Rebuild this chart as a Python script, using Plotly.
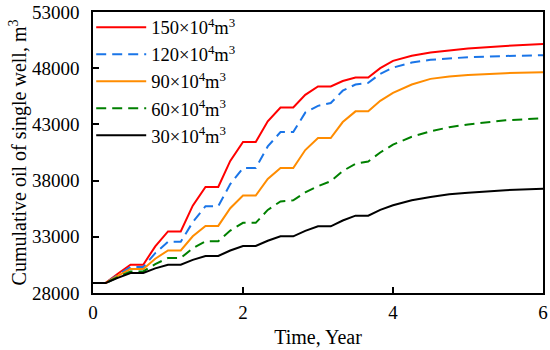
import plotly.graph_objects as go

time_year = [0, 0.17, 0.33, 0.5, 0.67, 0.83, 1.0, 1.17, 1.33, 1.5, 1.67, 1.83, 2.0, 2.17,
             2.33, 2.5, 2.67, 2.83, 3.0, 3.17, 3.33, 3.5, 3.67, 3.83, 4.0, 4.25, 4.5,
             4.75, 5.0, 5.5, 6.0]

oil_150 = [28900, 28900, 29710, 30520, 30520, 32150, 33480, 33480, 35770, 37430, 37430,
           39750, 41430, 41430, 43270, 44500, 44500, 45630, 46380, 46380, 46860, 47180,
           47180, 48000, 48650, 49100, 49400, 49600, 49750, 49980, 50150]
oil_120 = [28900, 28900, 29600, 30310, 30310, 31550, 32560, 32560, 34300, 35720, 35720,
           37690, 39120, 39120, 41040, 42320, 42320, 44050, 44650, 44900, 46000, 46550,
           46700, 47500, 48050, 48500, 48750, 48880, 48980, 49090, 49150]
oil_90 = [28900, 28900, 29520, 30140, 30140, 31050, 31790, 31790, 33050, 33970, 33970,
          35540, 36670, 36670, 38140, 39120, 39120, 40720, 41790, 41790, 43210, 44160,
          44160, 45100, 45800, 46550, 47050, 47270, 47400, 47560, 47640]
oil_60 = [28900, 28900, 29410, 29920, 29920, 30575, 31110, 31110, 31975, 32600, 32600,
          33550, 34240, 34240, 35390, 36150, 36250, 36950, 37500, 37950, 38850, 39500,
          39700, 40500, 41200, 41900, 42380, 42750, 43000, 43360, 43550]
oil_30 = [28900, 28900, 29340, 29780, 29780, 30190, 30520, 30520, 30945, 31290, 31290,
          31780, 32180, 32180, 32650, 33040, 33040, 33530, 33930, 33930, 34450, 34880,
          34880, 35400, 35800, 36250, 36550, 36780, 36930, 37150, 37280]

series_names = ["150×10<sup>4</sup>m<sup>3</sup>", "120×10<sup>4</sup>m<sup>3</sup>",
                "90×10<sup>4</sup>m<sup>3</sup>", "60×10<sup>4</sup>m<sup>3</sup>",
                "30×10<sup>4</sup>m<sup>3</sup>"]
series_values = [oil_150, oil_120, oil_90, oil_60, oil_30]
series_colors = ["#ff0000", "#1a75e8", "#ff8c00", "#008000", "#000000"]
series_dash = ["solid", "10px,6px", "solid", "10px,6px", "solid"]

x_ticks = [0, 2, 4, 6]
y_ticks = [28000, 33000, 38000, 43000, 48000, 53000]

FONT = "Liberation Serif, Times New Roman, serif"

fig = go.Figure()
for name, vals, col, dash in zip(series_names, series_values, series_colors, series_dash):
    fig.add_trace(go.Scatter(x=time_year, y=vals, mode="lines", name=name,
                             line=dict(color=col, width=2, dash=dash)))

fig.update_layout(
    width=550, height=350,
    margin=dict(l=93, r=7, t=12, b=57, autoexpand=False),
    paper_bgcolor="white", plot_bgcolor="white",
    font=dict(family=FONT, size=19, color="black"),
    showlegend=True,
    legend=dict(x=-0.004, y=1.012, xanchor="left", yanchor="top", bgcolor="rgba(0,0,0,0)",
                font=dict(family=FONT, size=18.5, color="black"),
                itemwidth=50, tracegroupgap=0, borderwidth=0),
)
fig.update_xaxes(range=[-0.0001, 6.0001], tickvals=x_ticks, ticktext=[str(v) for v in x_ticks],
                 ticks="inside", ticklen=6, tickwidth=1.5, tickcolor="black",
                 showline=True, linecolor="black", linewidth=1.5, mirror=True,
                 showgrid=False, zeroline=False, automargin=False,
                 ticklabelstandoff=1, ticklabeloverflow="allow",
                 title=dict(text="Time, Year", font=dict(family=FONT, size=20), standoff=8),
                 tickfont=dict(family=FONT, size=19))
fig.update_yaxes(range=[28000, 53000], tickvals=y_ticks, ticktext=[str(v) for v in y_ticks],
                 ticks="inside", ticklen=6, tickwidth=1.5, tickcolor="black",
                 showline=True, linecolor="black", linewidth=1.5, mirror=True,
                 showgrid=False, zeroline=False, automargin=False,
                 ticklabelstandoff=8, ticklabeloverflow="allow",
                 title=dict(text="Cumulative oil of single well, m<sup>3</sup>",
                            font=dict(family=FONT, size=20), standoff=0),
                 tickfont=dict(family=FONT, size=19))

fig.write_html("out.html", config={"displayModeBar": False},
               post_script="document.body.style.margin='0';document.body.style.overflow='hidden';")
